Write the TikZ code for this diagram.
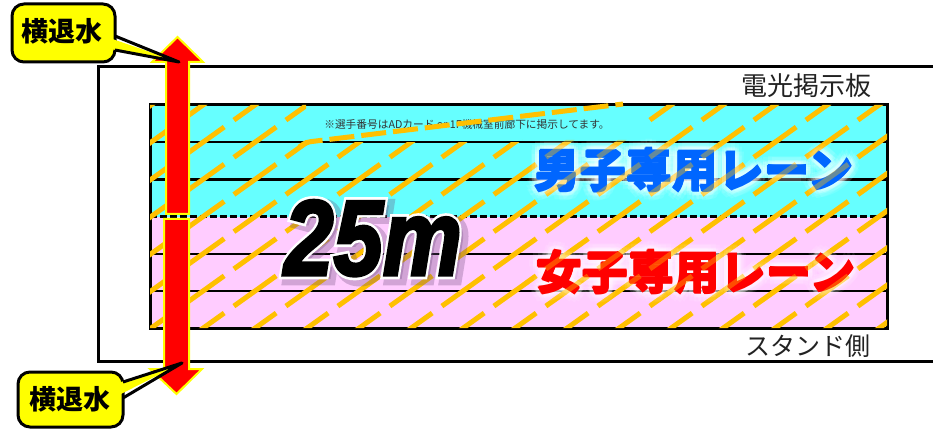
\documentclass[tikz,border=0pt]{standalone}
\usepackage{fontspec}
\newfontfamily\jp{Noto Sans CJK JP}
\newfontfamily\bigfont{Liberation Sans Bold Italic}[FakeBold=3]
\newfontfamily\bigoutline{Liberation Sans Bold Italic}[FakeBold=8]
\newfontfamily\bigshadow{Liberation Sans Bold Italic}[FakeBold=12]
\definecolor{poolcyan}{HTML}{66FFFF}
\definecolor{poolpink}{HTML}{FFCCFF}
\definecolor{hatchor}{HTML}{FFC000}
\definecolor{laneblue}{HTML}{0066FF}
\definecolor{lanered}{HTML}{FF0000}
\definecolor{calloutyel}{HTML}{FFFF00}
\definecolor{darktxt}{HTML}{222222}
\definecolor{noticetxt}{HTML}{333333}
\definecolor{shadowtxt}{HTML}{6A4A7A}
\tikzset{
 hatchline/.style={draw=hatchor, line width=5pt, dash pattern=on 52pt off 11.94pt},
 bendline/.style={draw=hatchor, line width=5pt, dash pattern=on 25pt off 7pt, rounded corners=5pt},
 laneline/.style={line width=2.5pt},
 arrowbody/.style={fill=red, draw=calloutyel, line width=2pt, line join=miter},
 calloutbox/.style={fill=calloutyel, draw=black, line width=3pt, rounded corners=12pt},
 calloutedge/.style={draw=black, line width=3pt, line join=round},
 calloutlbl/.style={font=\jp\bfseries\fontsize{27}{27}\selectfont, inner sep=0},
 bigtxt/.style={xscale=0.83, anchor=base, inner sep=0},
 lanelbl/.style={font=\jp\bfseries\fontsize{46}{46}\selectfont, inner sep=0},
 plainlbl/.style={font=\jp\fontsize{26}{26}\selectfont, text=darktxt, inner sep=0},
}
\begin{document}
\begin{tikzpicture}[x=1pt,y=-1pt]
\useasboundingbox (0,0) rectangle (933,430);
\clip (0,0) rectangle (933,430);
% outer frame
\draw[line width=3pt] (98,67) rectangle (950,361);
\node[plainlbl] (sign) at (806,86) {電光掲示板};
\node[plainlbl, font=\jp\fontsize{25}{25}\selectfont] (stand) at (808,346) {スタンド側};
% pool
\fill[poolcyan] (150,105) rectangle (887,216.6);
\fill[poolpink] (150,216.6) rectangle (887,328.2);
\foreach \y in {142.2,179.4,253.8,291} \draw[laneline] (150,\y) -- (887,\y);
\draw[laneline, dash pattern=on 7pt off 3pt] (150,216.6) -- (887,216.6);
\draw[line width=3pt] (150,105) rectangle (887,328.2);
\node[font=\jp\fontsize{10.7}{10.7}\selectfont, text=noticetxt, inner sep=0] (notice) at (467,124) {※選手番号はADカード or 1F機械室前廊下に掲示してます。};
% hatch
\begin{scope}
\clip (150,142.2) rectangle (887,328.2) (150,105) rectangle (306,142.2) (642,105) rectangle (887,142.2);
\foreach \k in {-2,...,20} {
  \pgfmathsetmacro\xs{203+52*\k-333.1}
  \draw[hatchline] (\xs,343.3) -- ++(364,-260.4);
}
\end{scope}
\draw[bendline] (299,147.2) -- (306,142.2) -- (623,104);
% lane labels with glow
\foreach \a in {0,30,...,330} {
  \path (694,170) ++(\a:9) node[lanelbl, text=white, opacity=0.10] {男子専用レーン};
  \path (694,170) ++(\a:5) node[lanelbl, text=white, opacity=0.18] {男子専用レーン};
  \path (696,272) ++(\a:9) node[lanelbl, text=white, opacity=0.10] {女子専用レーン};
  \path (696,272) ++(\a:5) node[lanelbl, text=white, opacity=0.18] {女子専用レーン};
}
\foreach \a in {0,90,180,270} {
  \path (694,170) ++(\a:0.8) node[lanelbl, text=laneblue] {男子専用レーン};
  \path (696,272) ++(\a:0.8) node[lanelbl, text=lanered] {女子専用レーン};
}
\node[lanelbl, text=laneblue] (male) at (694,170) {男子専用レーン};
\node[lanelbl, text=lanered] (female) at (696,272) {女子専用レーン};
% faint hatch seen through the lane labels
\begin{scope}
\clip (522,140) rectangle (868,201) (522,242) rectangle (868,303);
\foreach \k in {-2,...,20} {
  \pgfmathsetmacro\xs{203+52*\k-333.1}
  \draw[hatchline, draw opacity=0.4] (\xs,343.3) -- ++(364,-260.4);
}
\end{scope}
% 25m
\node[bigtxt, font=\bigshadow\fontsize{107}{107}\selectfont, text=shadowtxt, opacity=0.3] (distshadow) at (378,279) {25m};
\node[bigtxt, font=\bigoutline\fontsize{107}{107}\selectfont, text=white] (distoutline) at (373,275) {25m};
\node[bigtxt, font=\bigfont\fontsize{107}{107}\selectfont, text=black] (dist) at (373,275) {25m};
% arrows
\filldraw[arrowbody] (166,214) -- (166,62) -- (152,62) -- (177.5,37) -- (203,62) -- (189,62) -- (189,214) -- cycle;
\filldraw[arrowbody] (164,219) -- (164,369) -- (150,369) -- (176.5,394) -- (202,369) -- (189,369) -- (189,219) -- cycle;
% upper callout
\filldraw[calloutbox] (12,4) rectangle (115,62);
\fill[calloutyel] (108,37.5) -- (179,62) -- (108,48.5) -- cycle;
\draw[calloutedge] (115,36) -- (179,62) -- (115,50);
\node[calloutlbl] (ctop) at (62,31) {横退水};
% lower callout
\filldraw[calloutbox] (18,372) rectangle (123,427);
\fill[calloutyel] (116,383.5) -- (182,363) -- (116,396.5) -- cycle;
\draw[calloutedge] (123,382) -- (182,363) -- (123,398);
\node[calloutlbl] (cbot) at (70,399) {横退水};
\end{tikzpicture}
\end{document}
